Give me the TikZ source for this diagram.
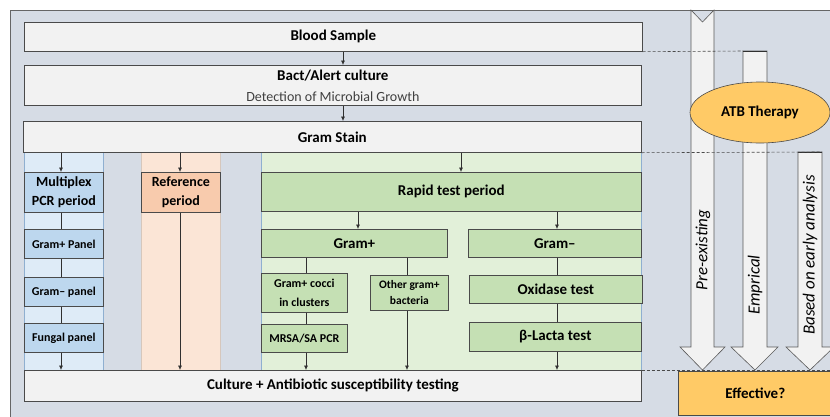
\documentclass[tikz,border=0pt]{standalone}
\usepackage{fontspec}
\setmainfont{Carlito}
\usetikzlibrary{arrows.meta,shapes.geometric}
\definecolor{bgc}{HTML}{D6DCE5}
\definecolor{lightbox}{HTML}{F2F2F2}
\definecolor{bluepanel}{HTML}{DEEBF7}
\definecolor{bluebox}{HTML}{BDD7EE}
\definecolor{orpanel}{HTML}{FBE5D6}
\definecolor{orbox}{HTML}{F8CBAD}
\definecolor{grpanel}{HTML}{E2F0D9}
\definecolor{grbox}{HTML}{C5E0B4}
\definecolor{yel}{HTML}{FFCA66}
\definecolor{edge}{HTML}{4A4A4A}
\definecolor{lineclr}{HTML}{303030}
\definecolor{txtgray}{HTML}{404040}
\definecolor{panedge}{HTML}{8FAFD0}
\begin{document}
\begin{tikzpicture}[x=1pt,y=-1pt,
  box/.style={draw=edge, line width=0.7pt, inner sep=0pt, anchor=north west, align=center, font=\bfseries\fontsize{15}{18}\selectfont},
  smallbox/.style={box, font=\bfseries\fontsize{12}{15}\selectfont},
  midbox/.style={box, font=\bfseries\fontsize{14}{19}\selectfont},
  conn/.style={draw=lineclr, line width=0.6pt},
  arr/.style={conn, -{Latex[length=4.5pt,width=4pt]}},
  bigarrow/.style={fill=lightbox, draw=gray!70!black, line width=0.6pt},
  sep/.style={draw=edge, line width=0.6pt, dash pattern=on 3pt off 2pt},
  vlabel/.style={rotate=90, font=\itshape\fontsize{17}{20}\selectfont, text=black}
]
\useasboundingbox (0,0) rectangle (830,416);
\clip (0,0) rectangle (830,416);
% background
\fill[bgc] (10,10) rectangle (840,426);
\draw[gray!80!black, line width=0.8pt] (10,426) -- (10,10) -- (840,10);
% column panels
\draw[fill=bluepanel, draw=panedge, line width=0.5pt] (24,152) rectangle (103,370);
\draw[fill=orpanel, draw=orpanel!70!gray, line width=0.5pt] (141,152) rectangle (220,370);
\draw[fill=grpanel, draw=panedge, line width=0.5pt] (261,152) rectangle (641,370);

% big arrows (behind ellipse)
\draw[bigarrow] (691,10) -- (702.5,22) -- (714,10) -- (714,347) -- (725,347) -- (702.5,370) -- (680,347) -- (691,347) -- cycle;
\draw[bigarrow] (743,51) -- (767,51) -- (767,347) -- (778,347) -- (755,370) -- (731,347) -- (743,347) -- cycle;
\draw[bigarrow] (798,152) -- (822,152) -- (822,347) -- (834,347) -- (810,370) -- (786,347) -- (798,347) -- cycle;
\draw[lineclr, line width=0.8pt] (743,51) -- (767,51);
\draw[lineclr, line width=0.8pt] (798,152) -- (822,152);
\node[vlabel] (lpre) at (703,250) {Pre-existing};
\node[vlabel] (lemp) at (755,285) {Emprical};
\node[vlabel] (lbas) at (810,255) {Based on early analysis};

% top boxes
\node[box, fill=lightbox, minimum width=618pt, minimum height=29pt] (blood) at (24,22) {Blood Sample};
\node[box, fill=lightbox, minimum width=617pt, minimum height=40pt, font=\fontsize{15}{21}\selectfont] (bact) at (24,65)
  {\bfseries Bact/Alert culture\\{\fontsize{14}{17}\selectfont\color{txtgray}Detection of Microbial Growth}};
\node[box, fill=lightbox, minimum width=618pt, minimum height=31pt] (gram) at (23,121) {Gram Stain};

% multiplex column
\node[midbox, fill=bluebox, minimum width=79pt, minimum height=40pt] (mplex) at (24,172) {Multiplex\\PCR period};
\node[smallbox, fill=bluebox, minimum width=79pt, minimum height=29pt] (gpp) at (24,229) {Gram+ Panel};
\node[smallbox, fill=bluebox, minimum width=79pt, minimum height=29pt] (gnp) at (24,277) {Gram– panel};
\node[smallbox, fill=bluebox, minimum width=79pt, minimum height=29pt] (fung) at (24,323) {Fungal panel};

% reference column
\node[midbox, fill=orbox, minimum width=79pt, minimum height=40pt] (refp) at (141,172) {Reference\\period};

% rapid test column
\node[box, fill=grbox, minimum width=380pt, minimum height=39pt] (rapid) at (261,172) {Rapid test period};
\node[box, fill=grbox, minimum width=186pt, minimum height=28pt] (gplus) at (261,229) {Gram+};
\node[box, fill=grbox, minimum width=173pt, minimum height=28pt] (gminus) at (468,229) {Gram–};
\node[smallbox, fill=grbox, minimum width=86pt, minimum height=39pt, font=\bfseries\fontsize{12}{19}\selectfont] (cocci) at (261,273) {Gram+ cocci\\in clusters};
\node[smallbox, fill=grbox, minimum width=78pt, minimum height=35pt, font=\bfseries\fontsize{11.5}{16}\selectfont] (other) at (370,275) {Other gram+\\bacteria};
\node[smallbox, fill=grbox, minimum width=86pt, minimum height=28pt] (mrsa) at (261,324) {MRSA/SA PCR};
\node[box, fill=grbox, minimum width=173pt, minimum height=28pt] (oxid) at (469,275) {Oxidase test};
\node[box, fill=grbox, minimum width=172pt, minimum height=29pt] (blac) at (469,322) {β-Lacta test};

% bottom
\node[box, fill=lightbox, minimum width=617pt, minimum height=31pt] (cult) at (24,370) {Culture + Antibiotic susceptibility testing};

% right side
\node[ellipse, draw=edge, line width=0.6pt, fill=yel, minimum width=140pt, minimum height=61pt, inner sep=0pt, font=\bfseries\fontsize{15}{18}\selectfont] (atb) at (760,112.5) {ATB Therapy};
\node[box, fill=yel, minimum width=154pt, minimum height=44pt] (eff) at (678,371) {Effective?};

% x positions of connectors
\coordinate (xa) at (343,0);
\coordinate (xm) at (61,0);
\coordinate (xr) at (180,0);
\coordinate (xt) at (461,0);
\coordinate (xgp) at (358,0);
\coordinate (xgn) at (557,0);
\coordinate (xc) at (306,0);
\coordinate (xo) at (407,0);

\draw[arr] (blood.south -| xa) -- (bact.north -| xa);
\draw[arr] (bact.south -| xa) -- (gram.north -| xa);
\draw[arr] (gram.south -| xm) -- (mplex.north -| xm);
\draw[conn] (mplex.south -| xm) -- (gpp.north -| xm);
\draw[conn] (gpp.south -| xm) -- (gnp.north -| xm);
\draw[conn] (gnp.south -| xm) -- (fung.north -| xm);
\draw[arr] (fung.south -| xm) -- (cult.north -| xm);
\draw[arr] (gram.south -| xr) -- (refp.north -| xr);
\draw[arr] (refp.south -| xr) -- (cult.north -| xr);
\draw[arr] (gram.south -| xt) -- (rapid.north -| xt);
\draw[arr] (rapid.south -| xgp) -- (gplus.north -| xgp);
\draw[arr] (rapid.south -| xgn) -- (gminus.north -| xgn);
\draw[conn] (gplus.south -| xc) -- (cocci.north -| xc);
\draw[conn] (cocci.south -| xc) -- (mrsa.north -| xc);
\draw[arr] (mrsa.south -| xc) -- (cult.north -| xc);
\draw[conn] (gplus.south -| xo) -- (other.north -| xo);
\draw[arr] (other.south -| xo) -- (cult.north -| xo);
\draw[conn] (gminus.south -| xgn) -- (oxid.north -| xgn);
\draw[conn] (oxid.south -| xgn) -- (blac.north -| xgn);
\draw[arr] (blac.south -| xgn) -- (cult.north -| xgn);

% dashed separators
\coordinate (d1) at (743,51);
\coordinate (d2) at (822,152);
\coordinate (d3) at (830,370);
\draw[sep] (blood.south east) -- (d1);
\draw[sep] (gram.south east) -- (d2);
\draw[sep] (cult.north east) -- (d3);
\end{tikzpicture}
\end{document}
